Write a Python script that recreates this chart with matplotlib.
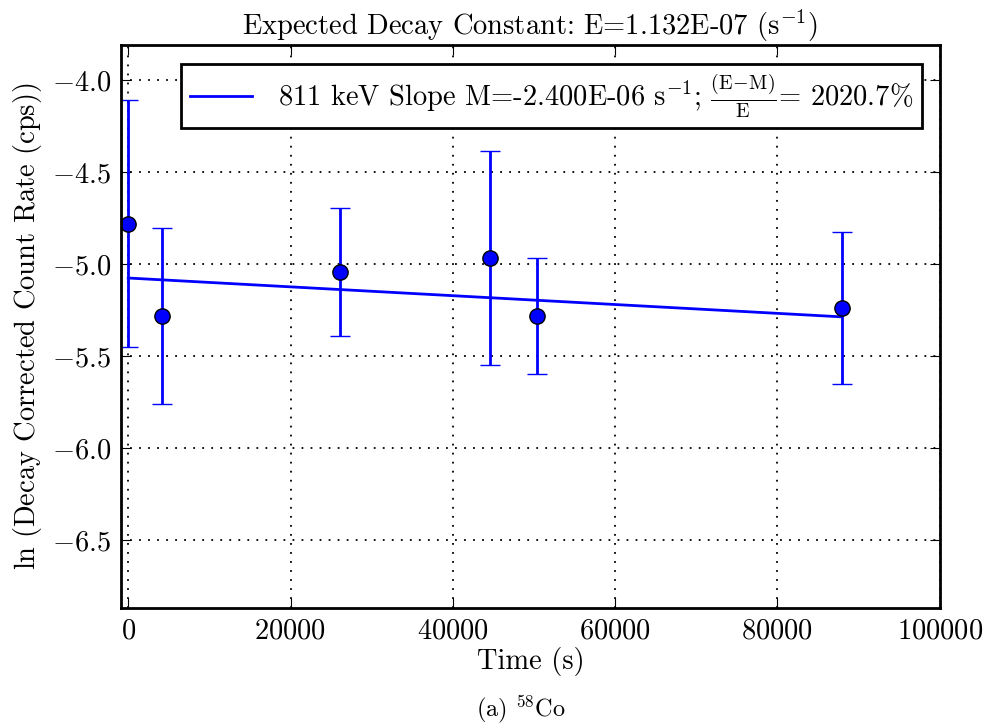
import numpy as np
import matplotlib
matplotlib.use("Agg")
from matplotlib import pyplot as plt

plt.rcParams['font.family'] = 'serif'
plt.rcParams['font.serif'] = ['cmr10']
plt.rcParams['mathtext.fontset'] = 'cm'
plt.rcParams['axes.formatter.use_mathtext'] = True
plt.rcParams['axes.unicode_minus'] = True

# measurements (time in s, ln of decay corrected count rate, 1-sigma error)
times = [0, 4190, 26140, 44640, 50430, 87910]
ln_rate = [-4.78, -5.283, -5.043, -4.967, -5.283, -5.239]
ln_err = [0.67, 0.48, 0.35, 0.58, 0.315, 0.415]

# fitted line
slope_m = -2.400e-06
intercept = -5.076
expected_e = 1.132e-07
pct_diff = 2020.7

fs = 20.5

fig = plt.figure(figsize=(9.83, 7.25), dpi=100)
ax = fig.add_axes([0.123, 0.161, 0.833, 0.777])

t = np.array(times)
fit_x = np.array([t.min(), t.max()])
fit_y = intercept + slope_m * fit_x

label = ("811 keV Slope M=-2.400E-06 $\\mathrm{s}^{-1}$; "
         "$\\frac{(\\mathrm{E}\\!-\\!\\mathrm{M})}{\\mathrm{E}}$= %.1f%%" % pct_diff)
ax.plot(fit_x, fit_y, c='blue', lw=2, label=label)
ax.errorbar(times, ln_rate, yerr=ln_err, fmt='o', c='blue', ecolor='blue',
            elinewidth=2, capsize=7, capthick=1.5, ms=11, mfc='blue',
            mec='black', mew=1)

ax.set_xlim(-900, 100000)
ax.set_ylim(-6.87, -3.81)
ax.set_xticks([0, 20000, 40000, 60000, 80000, 100000])
ax.set_yticks([-4.0, -4.5, -5.0, -5.5, -6.0, -6.5])
ax.grid(True, color='black', linestyle=(0, (1, 4)), lw=1.3)
ax.tick_params(direction='in', top=True, right=True, length=7, labelsize=fs,
               pad=7)
for s in ax.spines.values():
    s.set_linewidth(2)

ax.set_title("Expected Decay Constant: E=1.132E-07 $(\\mathrm{s}^{-1})$",
             fontsize=fs, pad=7)
ax.set_xlabel("Time (s)", fontsize=fs, labelpad=2)
ax.set_ylabel("$\\ln\\,$(Decay Corrected Count Rate (cps))", fontsize=fs,
              labelpad=6)

leg = ax.legend(loc='upper right', fontsize=fs, fancybox=False, framealpha=1,
                handlelength=2.2, handletextpad=0.9, borderpad=0.3,
                borderaxespad=0, bbox_to_anchor=(0.978, 0.966))
leg.get_frame().set_edgecolor('black')
leg.get_frame().set_linewidth(2)

fig.text(0.53, 0.012, "(a) $^{58}$Co", ha='center', fontsize=17.5)

fig.savefig("out.png", dpi=100)
